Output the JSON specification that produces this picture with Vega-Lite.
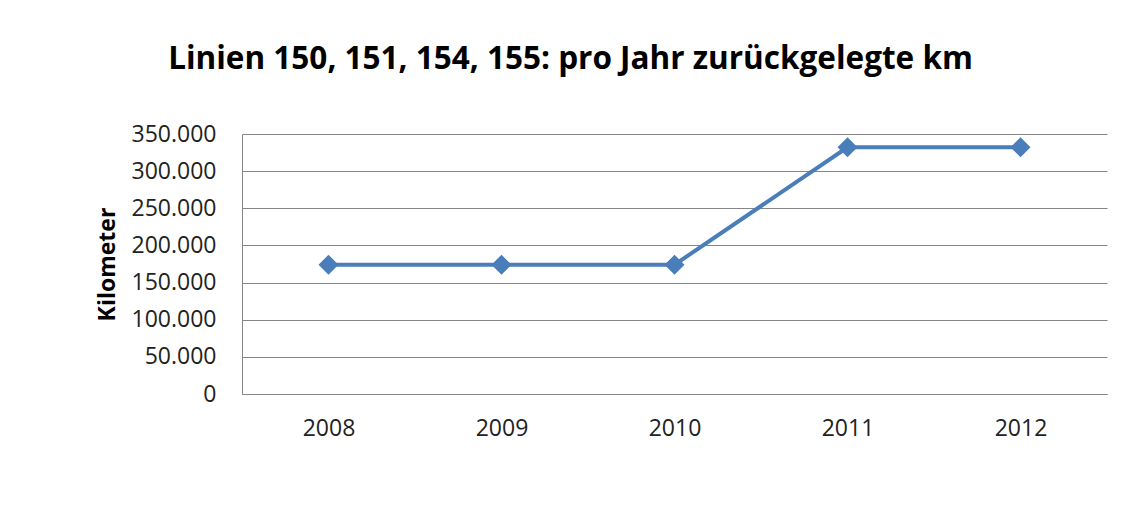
{
  "$schema": "https://vega.github.io/schema/vega-lite/v6.json",
  "autosize": {"type": "none"},
  "width": 865,
  "height": 260,
  "padding": {"left": 242, "top": 134, "right": 18, "bottom": 119},
  "background": "white",
  "config": {
    "locale": {"number": {"decimal": ",", "thousands": ".", "grouping": [3], "currency": ["", " €"]}},
    "view": {"stroke": null},
    "font": "Open Sans"
  },
  "title": {
    "text": "Linien 150, 151, 154, 155: pro Jahr zurückgelegte km",
    "font": "Open Sans",
    "fontSize": 31.5,
    "fontWeight": "bold",
    "color": "#000000",
    "anchor": "middle",
    "dx": -104,
    "offset": 48
  },
  "data": {
    "values": [
      {"Jahr": "2008", "km": 174000},
      {"Jahr": "2009", "km": 174000},
      {"Jahr": "2010", "km": 174000},
      {"Jahr": "2011", "km": 332000},
      {"Jahr": "2012", "km": 332000}
    ]
  },
  "encoding": {
    "x": {
      "field": "Jahr",
      "type": "ordinal",
      "scale": {"type": "point", "padding": 0.5},
      "axis": {
        "title": null,
        "labelAngle": 0,
        "labelFont": "Open Sans",
        "labelFontSize": 23,
        "labelColor": "#222222",
        "labelPadding": 23,
        "ticks": false,
        "domainColor": "#868686",
        "domainWidth": 1,
        "grid": false
      }
    },
    "y": {
      "field": "km",
      "type": "quantitative",
      "scale": {"domain": [0, 350000], "nice": false},
      "axis": {
        "title": "Kilometer",
        "titleFont": "Open Sans",
        "titleFontSize": 23,
        "titleFontWeight": "bold",
        "titleColor": "#000000",
        "titlePadding": 12,
        "values": [0, 50000, 100000, 150000, 200000, 250000, 300000, 350000],
        "format": ",d",
        "labelFont": "Open Sans",
        "labelFontSize": 23,
        "labelColor": "#222222",
        "labelPadding": 26,
        "ticks": false,
        "domainColor": "#868686",
        "domainWidth": 1,
        "grid": true,
        "gridColor": "#868686",
        "gridWidth": 1
      }
    }
  },
  "layer": [
    {"mark": {"type": "line", "color": "#4A7EBB", "strokeWidth": 4}},
    {"mark": {"type": "point", "shape": "diamond", "filled": true, "size": 400, "color": "#4A7EBB", "opacity": 1}}
  ]
}
